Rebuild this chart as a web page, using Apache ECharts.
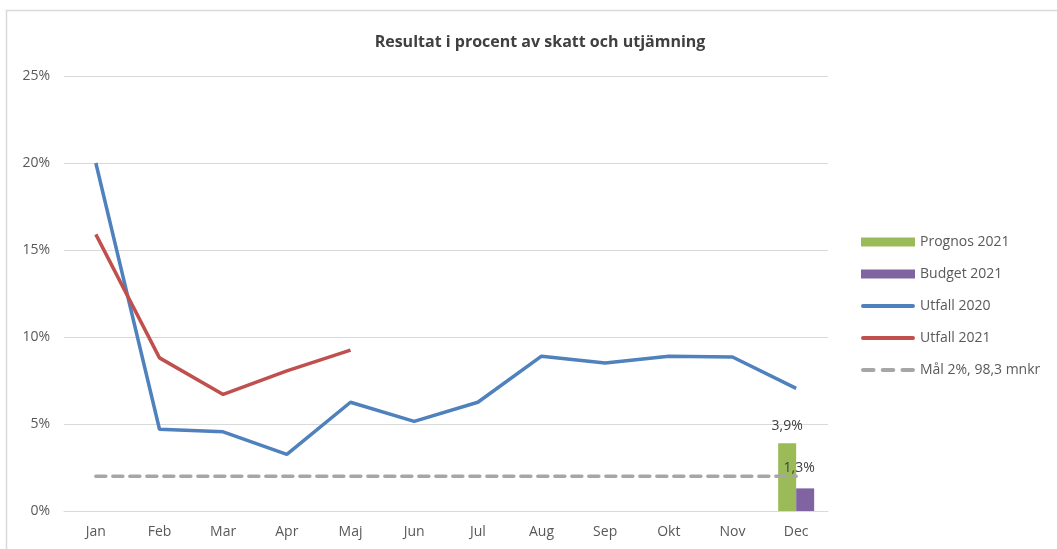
<!DOCTYPE html>
<html><head><meta charset="utf-8">
<script src="https://cdn.jsdelivr.net/npm/echarts@6/dist/echarts.min.js"></script>
<style>html,body{margin:0;padding:0;background:#fff}#c{width:1057px;height:549px}</style>
</head><body><div id="c"></div>
<script>
const months = ['Jan','Feb','Mar','Apr','Maj','Jun','Jul','Aug','Sep','Okt','Nov','Dec'];
const prognos2021 = [null,null,null,null,null,null,null,null,null,null,null,3.9];
const budget2021 = [null,null,null,null,null,null,null,null,null,null,null,1.3];
const utfall2020 = [20.0,4.7,4.55,3.25,6.25,5.15,6.25,8.9,8.5,8.9,8.85,7.05];
const utfall2021 = [15.9,8.8,6.7,8.05,9.25,null,null,null,null,null,null,null];
const mal = [2,2,2,2,2,2,2,2,2,2,2,2];
const yTicks = {min:0,max:25,interval:5};

const font = 'Open Sans';
const lineIcon = 'path://M2,0h48a2,2 0 0 1 0,4h-48a2,2 0 0 1 0,-4z';
const dashIcon = 'path://M2,0h10a2,2 0 0 1 0,4h-10a2,2 0 0 1 0,-4z M21,0h10a2,2 0 0 1 0,4h-10a2,2 0 0 1 0,-4z M40,0h10a2,2 0 0 1 0,4h-10a2,2 0 0 1 0,-4z';
const chart = echarts.init(document.getElementById('c'));
const fmt = p => p.value == null ? '' : p.value.toFixed(1).replace('.', ',') + '%';
chart.setOption({
  animation:false,
  textStyle:{fontFamily:font},
  graphic:[{type:'rect',shape:{x:6.5,y:10.5,width:1200,height:700},style:{fill:'none',stroke:'#d9d9d9',lineWidth:1.5},silent:true}],
  title:{text:'Resultat i procent av skatt och utjämning',left:535,textAlign:'center',top:29,
    textStyle:{fontFamily:font,fontSize:16,fontWeight:'bold',color:'#404040'}},
  grid:{left:64,right:229,top:76,bottom:38},
  legend:{orient:'vertical',left:856,top:230,itemWidth:54,itemHeight:9,itemGap:18,
    textStyle:{fontFamily:font,fontSize:14,color:'#595959'},
    data:[{name:'Prognos 2021',icon:'rect'},{name:'Budget 2021',icon:'rect'},
      {name:'Utfall 2020',icon:lineIcon},{name:'Utfall 2021',icon:lineIcon},{name:'Mål 2%, 98,3 mnkr',icon:dashIcon}]},
  xAxis:{type:'category',data:months,boundaryGap:true,
    axisLine:{lineStyle:{color:'#d9d9d9',width:1}},axisTick:{show:false},
    axisLabel:{color:'#595959',fontSize:14,margin:14,fontFamily:font}},
  yAxis:{type:'value',min:yTicks.min,max:yTicks.max,interval:yTicks.interval,
    axisLabel:{formatter:'{value}%',color:'#595959',fontSize:14,margin:14,fontFamily:font},
    splitLine:{lineStyle:{color:'#d9d9d9',width:1}},axisLine:{show:false},axisTick:{show:false}},
  series:[
    {name:'Prognos 2021',type:'bar',data:prognos2021,barWidth:18,barGap:'0%',itemStyle:{color:'#9bbb59'},
      label:{show:true,position:'top',formatter:fmt,color:'#404040',fontSize:14,distance:10}},
    {name:'Budget 2021',type:'bar',data:budget2021,barWidth:18,itemStyle:{color:'#8064a2'},
      label:{show:true,position:'top',formatter:fmt,color:'#404040',fontSize:14,distance:13,offset:[-6,0]}},
    {name:'Utfall 2020',type:'line',data:utfall2020,symbol:'none',lineStyle:{color:'#4f81bd',width:3.5},itemStyle:{color:'#4f81bd'},z:3},
    {name:'Utfall 2021',type:'line',data:utfall2021,symbol:'none',lineStyle:{color:'#c0504d',width:3.5},itemStyle:{color:'#c0504d'},z:4},
    {name:'Mål 2%, 98,3 mnkr',type:'line',data:mal,symbol:'none',lineStyle:{color:'#a6a6a6',width:3.5,type:[10,7],cap:'round'},itemStyle:{color:'#a6a6a6'},z:2}
  ]
});
</script></body></html>
